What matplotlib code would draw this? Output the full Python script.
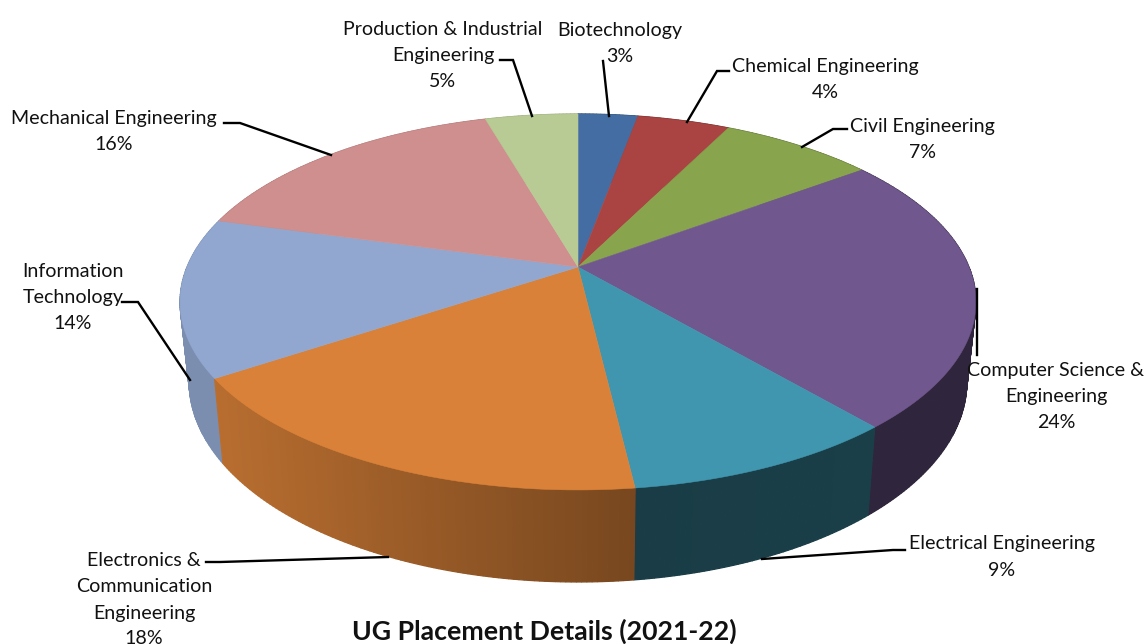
import numpy as np
import matplotlib
matplotlib.use("Agg")
import matplotlib.pyplot as plt
from matplotlib.patches import Polygon

categories = ["Biotechnology", "Chemical Engineering", "Civil Engineering",
              "Computer Science &\nEngineering", "Electrical Engineering",
              "Electronics &\nCommunication\nEngineering", "Information\nTechnology",
              "Mechanical Engineering", "Production & Industrial\nEngineering"]
label_pct = [3, 4, 7, 24, 9, 18, 14, 16, 5]
slice_sizes = [2.9, 4.5, 7.5, 23.8, 9.4, 17.6, 13.6, 16.2, 4.5]

top_colors = ["#446ea3", "#a94442", "#88a44d", "#70578e", "#3f96ae",
              "#d98138", "#91a7cf", "#cf8f8e", "#b8cb94"]
side_shades = [(.6, .6), (.6, .6), (.6, .6), (.42, .42), (.42, .40),
               (.55, .85), (.85, .85), (.8, .8), (.8, .8)]

label_pos = [(620, 30), (825, 66), (922, 126), (1056, 370), (1002, 544),
             (144, 561), (73, 271), (114, 118), (443, 29)]
leaders = [[(603, 61), (609, 116)],
           [(729, 71), (717, 71), (687, 122)],
           [(847, 129), (833, 129), (802, 147)],
           [(977, 289), (977, 355)],
           [(905, 550), (893, 550), (762, 559)],
           [(206, 562), (220, 562), (388, 557)],
           [(122, 302), (138, 302), (190, 380)],
           [(224, 123), (240, 123), (331, 155)],
           [(500, 60), (513, 60), (532, 116)]]
title = "UG Placement Details (2021-22)"

# perspective projection of the pie disc
CX, CY, K, C, A = 578.0, 267.0, 391.0, 0.186, -131.8
DEPTH_SCALE, BASE_K, BASE_OFF = 0.977, 1.064, 60.7


def top(theta):
    u, v = np.sin(theta), np.cos(theta)
    d = C * v + 1
    return CX + K * u / d, (A * v + CY) / d


def bottom(x, y):
    return CX + DEPTH_SCALE * (x - CX), BASE_OFF + BASE_K * y


fig = plt.figure(figsize=(11.46, 6.44), dpi=100)
ax = fig.add_axes([0, 0, 1, 1])
ax.set_xlim(0, 1146)
ax.set_ylim(644, 0)
ax.axis("off")

edges = np.concatenate([[0], np.cumsum(slice_sizes)]) / sum(slice_sizes) * 2 * np.pi

# side wall
quads = []
for i in range(len(slice_sizes)):
    n = max(3, int((edges[i + 1] - edges[i]) * 90))
    th = np.linspace(edges[i], edges[i + 1], n + 1)
    xs, ys = top(th)
    xb, yb = bottom(xs, ys)
    x_left, x_right = xs.min(), xs.max()
    s0, s1 = side_shades[i]
    base = np.array(matplotlib.colors.to_rgb(top_colors[i]))
    for j in range(n):
        xm = (xs[j] + xs[j + 1]) / 2
        t = (x_right - xm) / max(x_right - x_left, 1)
        col = base * (s0 + (s1 - s0) * t)
        quads.append((ys[j] + ys[j + 1],
                      [(xs[j], ys[j]), (xs[j + 1], ys[j + 1]),
                       (xb[j + 1], yb[j + 1]), (xb[j], yb[j])], col))
for _, pts, col in sorted(quads, key=lambda q: q[0]):
    ax.add_patch(Polygon(pts, closed=True, fc=col, ec=col, lw=0.9, zorder=2))

# top face
for i in range(len(slice_sizes)):
    th = np.linspace(edges[i], edges[i + 1], 120)
    xs, ys = top(th)
    pts = [(CX, CY)] + list(zip(xs, ys))
    ax.add_patch(Polygon(pts, closed=True, fc=top_colors[i], ec=top_colors[i],
                         lw=0.4, zorder=3))

# leaders and labels
for seg in leaders:
    px, py = zip(*seg)
    ax.plot(px, py, color="black", lw=1.7, zorder=4, solid_joinstyle="miter")

FS = 14.1
for name, pct, (x, y) in zip(categories, label_pct, label_pos):
    lines = name.split("\n") + [f"{pct}%"]
    for k, line in enumerate(lines):
        ax.text(x, y + 26 * k, line, ha="center", va="center", fontsize=FS,
                family="Lato", color="#111111", zorder=5, clip_on=True)

ax.text(544, 631, title, ha="center", va="center", fontsize=19.2, fontweight="bold",
        family="Lato", color="#111111", zorder=5)

fig.savefig("out.png", dpi=100, facecolor="white")
